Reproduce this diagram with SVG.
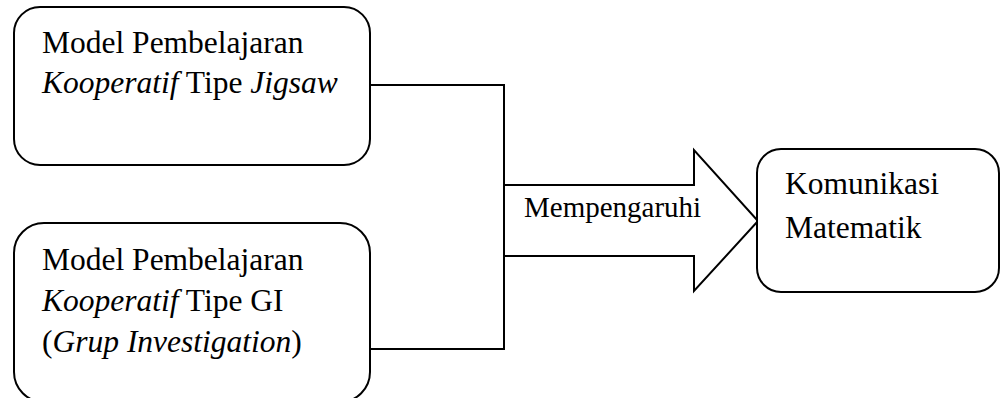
<svg xmlns="http://www.w3.org/2000/svg" width="1000" height="398" viewBox="0 0 1000 398">
  <style>
    .box { fill: #ffffff; stroke: #000000; stroke-width: 2; }
    .line { fill: none; stroke: #000000; stroke-width: 2; }
    .txt { font-family: "Liberation Serif", "Times New Roman", serif; font-size: 31.5px; fill: #000000; }
    .lbl { font-family: "Liberation Serif", "Times New Roman", serif; font-size: 29px; fill: #000000; }
    .it { font-style: italic; }
  </style>

  <!-- connectors: elbow joining the two source boxes, then the block arrow -->
  <g id="connectors">
    <polyline class="line" points="370,85 504,85 504,349 370,349"/>
    <polygon class="line" fill="#ffffff" points="504,185 694,185 694,150 758,221 694,291 694,256 504,256"/>
    <text class="lbl" x="524" y="217">Mempengaruhi</text>
  </g>

  <g id="node-jigsaw">
    <rect class="box" x="14" y="7" width="356" height="158" rx="26" ry="26"/>
    <text class="txt" x="42" y="53">Model Pembelajaran</text>
    <text class="txt" x="42" y="93"><tspan class="it">Kooperatif</tspan> Tipe <tspan class="it">Jigsaw</tspan></text>
  </g>

  <g id="node-gi">
    <rect class="box" x="14" y="223" width="356" height="179" rx="30" ry="30"/>
    <text class="txt" x="42" y="270">Model Pembelajaran</text>
    <text class="txt" x="42" y="311"><tspan class="it">Kooperatif</tspan> Tipe GI</text>
    <text class="txt" x="42" y="352">(<tspan class="it">Grup Investigation</tspan>)</text>
  </g>

  <g id="node-komunikasi">
    <rect class="box" x="757" y="149" width="242" height="143" rx="24" ry="24"/>
    <text class="txt" x="785" y="194">Komunikasi</text>
    <text class="txt" x="785" y="238">Matematik</text>
  </g>
</svg>
